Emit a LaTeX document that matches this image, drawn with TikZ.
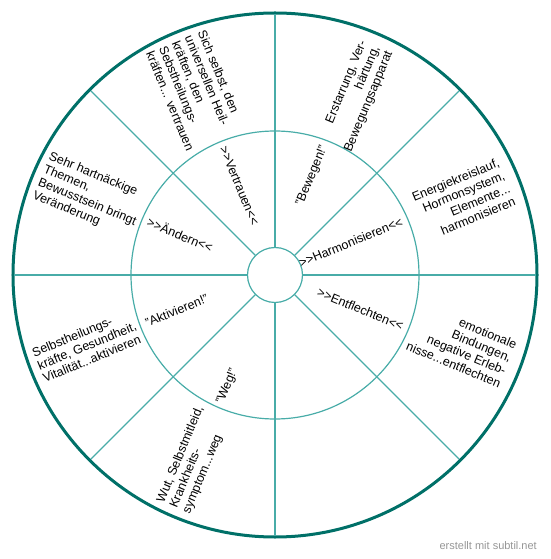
\documentclass[tikz,border=0pt]{standalone}
\usepackage{fontspec}
\setmainfont{Liberation Sans}
\definecolor{RingTeal}{RGB}{0, 112, 104}
\definecolor{LineTeal}{RGB}{72, 172, 168}
\definecolor{MarkGray}{RGB}{150, 150, 150}
\usepackage{tikz}
\usetikzlibrary{calc}

\begin{document}
\begin{tikzpicture}[x=1pt, y=1pt, every node/.style={font=\fontsize{12.5}{14}\selectfont, inner sep=1pt},
  spoke/.style={draw=LineTeal, line width=1.2pt},
  inlbl/.style={inner sep=2pt},
  outR/.style={align=right, anchor=east},
  outL/.style={align=left, anchor=west}]
\useasboundingbox (-275,-284) rectangle (275,275);

% rings
\node[circle, draw=RingTeal, line width=3pt, minimum size=524pt, inner sep=0pt, outer sep=0pt] (ring) at (0,0) {};
\node[circle, draw=LineTeal, line width=1.2pt, minimum size=288pt, inner sep=0pt] (mid) at (0,0) {};
\node[circle, draw=LineTeal, line width=1.2pt, minimum size=55pt, inner sep=0pt] (hub) at (0,0) {};
\foreach \a in {0,45,...,315}
  \draw[spoke, shorten >=1.5pt] (hub.\a) -- (ring.\a);

% inner ring labels
\node[inlbl, rotate=22.5, anchor=east] (harm) at (23:140) {>{}>Harmonisieren<{}<};
\node[inlbl, rotate=67.5, anchor=east] (beweg) at (69:140) {"Bewegen!"};
\node[inlbl, rotate=-67.5, anchor=west] (vertr) at (112:140) {>{}>Vertrauen<{}<};
\node[inlbl, rotate=-22.5, anchor=west] (aend) at (157:140) {>{}>Ändern<{}<};
\node[inlbl, rotate=22.5, anchor=west] (aktiv) at (200.5:140) {"Aktivieren!"};
\node[inlbl, rotate=67.5, anchor=west] (weg) at (247:142) {"Weg!"};
\node[inlbl, rotate=-22.5, anchor=east] (entfl) at (-22:140) {>{}>Entflechten<{}<};

% outer ring texts
\node[outR, rotate=22.5] (energ) at (22:251) {Energiekreislauf,\\Hormonsystem,\\Elemente...\\harmonisieren};
\node[outR, rotate=67.5] (erst) at (66:251) {Erstarrung, Ver-\\härtung,\\Bewegungsapparat};
\node[outL, rotate=-67.5] (sich) at (113:255) {Sich selbst, den\\universellen Heil-\\kräften, den\\Sebstheilungs-\\kräften... vertrauen};
\node[outL, rotate=-22.5] (sehr) at (157:255) {Sehr hartnäckige\\Themen,\\Bewusstsein bringt\\Veränderung};
\node[outL, rotate=22.5] (selbst) at (201:255) {Selbstheilungs-\\kräfte, Gesundheit,\\Vitalität...aktivieren};
\node[outL, rotate=67.5] (wut) at (246.5:255) {Wut, Selbstmitleid,\\Krankheits-\\symptom...weg};
\node[outR, rotate=-22.5] (emot) at (-21:251) {emotionale\\Bindungen,\\negative Erleb-\\nisse...entflechten};

\node[font=\fontsize{11}{13}\selectfont, text=MarkGray, anchor=east] (mark) at (263,-271) {erstellt mit subtil.net};
\end{tikzpicture}
\end{document}
